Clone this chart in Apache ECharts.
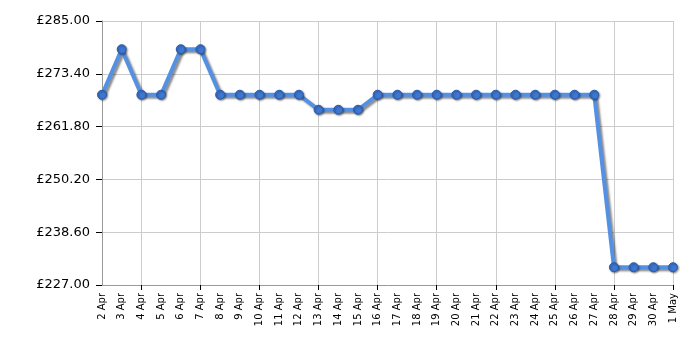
<!DOCTYPE html>
<html>
<head>
<meta charset="utf-8">
<script src="https://cdn.jsdelivr.net/npm/echarts@6/dist/echarts.min.js"></script>
<style>html,body{margin:0;padding:0;background:#fff}#c{width:700px;height:350px}</style>
</head>
<body>
<div id="c"></div>
<script>
const categories = ['2 Apr','3 Apr','4 Apr','5 Apr','6 Apr','7 Apr','8 Apr','9 Apr','10 Apr','11 Apr','12 Apr','13 Apr','14 Apr','15 Apr','16 Apr','17 Apr','18 Apr','19 Apr','20 Apr','21 Apr','22 Apr','23 Apr','24 Apr','25 Apr','26 Apr','27 Apr','28 Apr','29 Apr','30 Apr','1 May'];
const prices = [268.80,278.80,268.80,268.80,278.80,278.80,268.80,268.80,268.80,268.80,268.80,265.50,265.50,265.50,268.80,268.80,268.80,268.80,268.80,268.80,268.80,268.80,268.80,268.80,268.80,268.80,230.90,230.90,230.90,230.90];
const yTicks = [227.00, 238.60, 250.20, 261.80, 273.40, 285.00];

const chart = echarts.init(document.getElementById('c'), null, {renderer: 'canvas'});
const every3 = (i) => (i + 1) % 3 === 0;
chart.setOption({
  animation: false,
  textStyle: {fontFamily: 'DejaVu Sans'},
  grid: {left: 102, right: 27, top: 21, bottom: 65, containLabel: false},
  xAxis: {
    type: 'category',
    data: categories,
    boundaryGap: false,
    axisLine: {lineStyle: {color: '#999', width: 1}},
    axisTick: {show: true, interval: every3, length: 5, lineStyle: {color: '#000'}},
    axisLabel: {interval: 0, rotate: 90, fontSize: 10, color: '#000', margin: 8, fontFamily: 'DejaVu Sans'},
    splitLine: {show: true, interval: every3, lineStyle: {color: '#ccc', width: 1}}
  },
  yAxis: {
    type: 'value',
    min: yTicks[0],
    max: yTicks[yTicks.length - 1],
    axisLine: {show: true, lineStyle: {color: '#999', width: 1}},
    axisTick: {show: true, length: 6, lineStyle: {color: '#000'}, customValues: yTicks},
    axisLabel: {fontSize: 13, color: '#000', margin: 12, fontFamily: 'DejaVu Sans',
      customValues: yTicks,
      formatter: (v) => '£' + Number(v).toFixed(2)},
    splitLine: {show: true, lineStyle: {color: '#ccc', width: 1}, customValues: yTicks}
  },
  series: [{
    type: 'line',
    data: prices,
    symbol: 'circle',
    symbolSize: 9,
    lineStyle: {color: '#5591e3', width: 4, shadowColor: 'rgba(0,0,0,0.45)', shadowBlur: 2, shadowOffsetX: 2, shadowOffsetY: 2},
    itemStyle: {color: '#3d77d2', borderColor: '#2b5aa8', borderWidth: 1, shadowColor: 'rgba(0,0,0,0.4)', shadowBlur: 2, shadowOffsetX: 1, shadowOffsetY: 1}
  }]
});
</script>
</body>
</html>
